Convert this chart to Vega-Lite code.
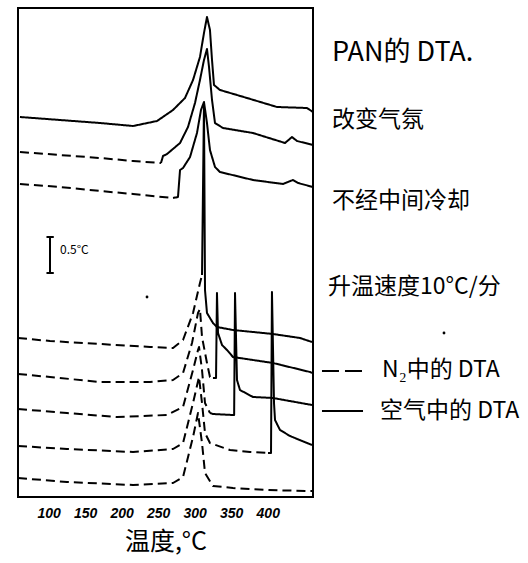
{
"$schema": "https://vega.github.io/schema/vega-lite/v6.json",
"width": 295, "height": 489,
"autosize": {"type": "none"},
"padding": {"left": 18, "top": 8, "right": 215, "bottom": 66},
"background": "white",
"config": {"view": {"stroke": "black", "strokeWidth": 2}, "font": "Noto Sans CJK SC"},
"datasets": {
"curves": [
{"s":"A1","i":1,"d":"air","t":60.7,"u":380},{"s":"A1","i":2,"d":"air","t":115.5,"u":377},{"s":"A1","i":3,"d":"air","t":170.3,"u":374},{"s":"A1","i":4,"d":"air","t":215.5,"u":371},{"s":"A1","i":5,"d":"air","t":248.4,"u":376},{"s":"A1","i":6,"d":"air","t":270.3,"u":387},{"s":"A1","i":7,"d":"air","t":286.7,"u":399},{"s":"A1","i":8,"d":"air","t":297.7,"u":417},{"s":"A1","i":9,"d":"air","t":307.2,"u":440},{"s":"A1","i":10,"d":"air","t":312.7,"u":464},{"s":"A1","i":11,"d":"air","t":316.8,"u":480},{"s":"A1","i":12,"d":"air","t":320.9,"u":467},{"s":"A1","i":13,"d":"air","t":323.7,"u":437},{"s":"A1","i":14,"d":"air","t":326.4,"u":412},{"s":"A1","i":15,"d":"air","t":334.6,"u":407},{"s":"A1","i":16,"d":"air","t":357.9,"u":402},{"s":"A1","i":17,"d":"air","t":371.6,"u":399},{"s":"A1","i":18,"d":"air","t":412.7,"u":390},{"s":"A1","i":19,"d":"air","t":453.8,"u":389},{"s":"A1","i":20,"d":"air","t":462,"u":385},
{"s":"B1","i":1,"d":"N2","t":60.7,"u":345},{"s":"B1","i":2,"d":"N2","t":115.5,"u":342},{"s":"B1","i":3,"d":"N2","t":170.3,"u":339},{"s":"B1","i":4,"d":"N2","t":215.5,"u":336},{"s":"B1","i":5,"d":"N2","t":253.8,"u":334},
{"s":"B2","i":1,"d":"air","t":253.8,"u":334},{"s":"B2","i":2,"d":"air","t":256.6,"u":341},{"s":"B2","i":3,"d":"air","t":262.1,"u":343},{"s":"B2","i":4,"d":"air","t":279.9,"u":354},{"s":"B2","i":5,"d":"air","t":290.8,"u":370},{"s":"B2","i":6,"d":"air","t":300.4,"u":394},{"s":"B2","i":7,"d":"air","t":307.2,"u":417},{"s":"B2","i":8,"d":"air","t":312.7,"u":437},{"s":"B2","i":9,"d":"air","t":316.8,"u":448},{"s":"B2","i":10,"d":"air","t":319.6,"u":430},{"s":"B2","i":11,"d":"air","t":323.7,"u":397},{"s":"B2","i":12,"d":"air","t":327.8,"u":374},{"s":"B2","i":13,"d":"air","t":338.7,"u":369},{"s":"B2","i":14,"d":"air","t":379.8,"u":364},{"s":"B2","i":15,"d":"air","t":423.7,"u":354},{"s":"B2","i":16,"d":"air","t":433.2,"u":360},{"s":"B2","i":17,"d":"air","t":440.1,"u":356},{"s":"B2","i":18,"d":"air","t":462,"u":352},
{"s":"C1","i":1,"d":"N2","t":60.7,"u":313},{"s":"C1","i":2,"d":"N2","t":115.5,"u":310},{"s":"C1","i":3,"d":"N2","t":170.3,"u":306},{"s":"C1","i":4,"d":"N2","t":215.5,"u":303},{"s":"C1","i":5,"d":"N2","t":270.3,"u":299},
{"s":"C2","i":1,"d":"air","t":270.3,"u":299},{"s":"C2","i":2,"d":"air","t":277.1,"u":300},{"s":"C2","i":3,"d":"air","t":279.9,"u":327},{"s":"C2","i":4,"d":"air","t":284,"u":329},{"s":"C2","i":5,"d":"air","t":293.6,"u":340},{"s":"C2","i":6,"d":"air","t":303.1,"u":364},{"s":"C2","i":7,"d":"air","t":308.6,"u":387},{"s":"C2","i":8,"d":"air","t":312.7,"u":395},{"s":"C2","i":9,"d":"air","t":316.8,"u":374},{"s":"C2","i":10,"d":"air","t":320.9,"u":347},{"s":"C2","i":11,"d":"air","t":327.8,"u":330},{"s":"C2","i":12,"d":"air","t":334.6,"u":325},{"s":"C2","i":13,"d":"air","t":379.8,"u":317},{"s":"C2","i":14,"d":"air","t":420.9,"u":313},{"s":"C2","i":15,"d":"air","t":434.6,"u":317},{"s":"C2","i":16,"d":"air","t":441.5,"u":314},{"s":"C2","i":17,"d":"air","t":462,"u":310},
{"s":"D1","i":1,"d":"N2","t":58,"u":159},{"s":"D1","i":2,"d":"N2","t":101.8,"u":156},{"s":"D1","i":3,"d":"N2","t":170.3,"u":153},{"s":"D1","i":4,"d":"N2","t":238.8,"u":150},{"s":"D1","i":5,"d":"N2","t":270.3,"u":149},{"s":"D1","i":6,"d":"N2","t":284,"u":157},{"s":"D1","i":7,"d":"N2","t":297.7,"u":184},{"s":"D1","i":8,"d":"N2","t":307.2,"u":214},{"s":"D1","i":9,"d":"N2","t":310,"u":222},
{"s":"D2","i":1,"d":"air","t":310,"u":222},{"s":"D2","i":2,"d":"air","t":312.7,"u":393},{"s":"D2","i":3,"d":"air","t":314.1,"u":207},{"s":"D2","i":4,"d":"air","t":316.8,"u":184},{"s":"D2","i":5,"d":"air","t":325,"u":174},{"s":"D2","i":6,"d":"air","t":330.5,"u":170},{"s":"D2","i":7,"d":"air","t":352.4,"u":167},{"s":"D2","i":8,"d":"air","t":407.2,"u":163},{"s":"D2","i":9,"d":"air","t":444.2,"u":159},{"s":"D2","i":10,"d":"air","t":460.6,"u":155},
{"s":"E1","i":1,"d":"N2","t":58,"u":123},{"s":"E1","i":2,"d":"N2","t":101.8,"u":120},{"s":"E1","i":3,"d":"N2","t":170.3,"u":115},{"s":"E1","i":4,"d":"N2","t":238.8,"u":115},{"s":"E1","i":5,"d":"N2","t":270.3,"u":117},{"s":"E1","i":6,"d":"N2","t":284,"u":124},{"s":"E1","i":7,"d":"N2","t":296.3,"u":154},{"s":"E1","i":8,"d":"N2","t":304.5,"u":184},{"s":"E1","i":9,"d":"N2","t":307.2,"u":188},{"s":"E1","i":10,"d":"N2","t":310,"u":160},{"s":"E1","i":11,"d":"N2","t":316.8,"u":134},{"s":"E1","i":12,"d":"N2","t":320.9,"u":120},{"s":"E1","i":13,"d":"N2","t":325,"u":119},
{"s":"E2","i":1,"d":"air","t":325,"u":119},{"s":"E2","i":2,"d":"air","t":329.2,"u":119},{"s":"E2","i":3,"d":"air","t":330.5,"u":204},{"s":"E2","i":4,"d":"air","t":331.9,"u":164},{"s":"E2","i":5,"d":"air","t":337.4,"u":152},{"s":"E2","i":6,"d":"air","t":344.2,"u":147},{"s":"E2","i":7,"d":"air","t":352.4,"u":140},{"s":"E2","i":8,"d":"air","t":407.2,"u":134},{"s":"E2","i":9,"d":"air","t":457.9,"u":125},{"s":"E2","i":10,"d":"air","t":460.6,"u":124},
{"s":"F1","i":1,"d":"N2","t":58,"u":88},{"s":"F1","i":2,"d":"N2","t":125.1,"u":84},{"s":"F1","i":3,"d":"N2","t":193.6,"u":80},{"s":"F1","i":4,"d":"N2","t":262.1,"u":82},{"s":"F1","i":5,"d":"N2","t":284,"u":90},{"s":"F1","i":6,"d":"N2","t":297.7,"u":127},{"s":"F1","i":7,"d":"N2","t":304.5,"u":147},{"s":"F1","i":8,"d":"N2","t":305.9,"u":150},{"s":"F1","i":9,"d":"N2","t":310,"u":127},{"s":"F1","i":10,"d":"N2","t":314.1,"u":94},{"s":"F1","i":11,"d":"N2","t":320.9,"u":84},
{"s":"F2","i":1,"d":"air","t":320.9,"u":84},{"s":"F2","i":2,"d":"air","t":325,"u":83},{"s":"F2","i":3,"d":"air","t":352.4,"u":82},{"s":"F2","i":4,"d":"air","t":354,"u":82},{"s":"F2","i":5,"d":"air","t":355.2,"u":204},{"s":"F2","i":6,"d":"air","t":357.9,"u":117},{"s":"F2","i":7,"d":"air","t":362,"u":107},{"s":"F2","i":8,"d":"air","t":379.8,"u":100},{"s":"F2","i":9,"d":"air","t":407.2,"u":99},{"s":"F2","i":10,"d":"air","t":460.6,"u":92},
{"s":"G1","i":1,"d":"N2","t":58,"u":51},{"s":"G1","i":2,"d":"N2","t":125.1,"u":48},{"s":"G1","i":3,"d":"N2","t":215.5,"u":45},{"s":"G1","i":4,"d":"N2","t":270.3,"u":48},{"s":"G1","i":5,"d":"N2","t":284,"u":54},{"s":"G1","i":6,"d":"N2","t":297.7,"u":94},{"s":"G1","i":7,"d":"N2","t":305.9,"u":120},{"s":"G1","i":8,"d":"N2","t":310,"u":94},{"s":"G1","i":9,"d":"N2","t":314.1,"u":64},{"s":"G1","i":10,"d":"N2","t":320.9,"u":54},{"s":"G1","i":11,"d":"N2","t":348.3,"u":47},{"s":"G1","i":12,"d":"N2","t":375.7,"u":45},{"s":"G1","i":13,"d":"N2","t":400.4,"u":44},
{"s":"G2","i":1,"d":"air","t":400.4,"u":44},{"s":"G2","i":2,"d":"air","t":404.5,"u":44},{"s":"G2","i":3,"d":"air","t":405.8,"u":205},{"s":"G2","i":4,"d":"air","t":408.6,"u":94},{"s":"G2","i":5,"d":"air","t":410,"u":77},{"s":"G2","i":6,"d":"air","t":416.8,"u":67},{"s":"G2","i":7,"d":"air","t":430.5,"u":61},{"s":"G2","i":8,"d":"air","t":453.8,"u":54},{"s":"G2","i":9,"d":"air","t":460.6,"u":52},
{"s":"H1","i":1,"d":"N2","t":58,"u":19},{"s":"H1","i":2,"d":"N2","t":125.1,"u":15},{"s":"H1","i":3,"d":"N2","t":215.5,"u":12},{"s":"H1","i":4,"d":"N2","t":270.3,"u":14},{"s":"H1","i":5,"d":"N2","t":284,"u":20},{"s":"H1","i":6,"d":"N2","t":297.7,"u":60},{"s":"H1","i":7,"d":"N2","t":304.5,"u":84},{"s":"H1","i":8,"d":"N2","t":310,"u":54},{"s":"H1","i":9,"d":"N2","t":314.1,"u":24},{"s":"H1","i":10,"d":"N2","t":325,"u":11},{"s":"H1","i":11,"d":"N2","t":352.4,"u":9},{"s":"H1","i":12,"d":"N2","t":399,"u":7},{"s":"H1","i":13,"d":"N2","t":455.2,"u":6},{"s":"H1","i":14,"d":"N2","t":460.6,"u":6}
],
"ticks": [{"t":67.6},{"t":89.5},{"t":108.7},{"t":130.6},{"t":152.5},{"t":173.0},{"t":192.2},{"t":214.1},{"t":234.7},{"t":256.6},{"t":277.1},{"t":299.0},{"t":320.9},{"t":341.5},{"t":363.4},{"t":385.3},{"t":407.2},{"t":427.8},{"t":448.3}],
"bar": [{"t":101.8,"t2":101.8,"u":224,"u2":260},{"t":97,"t2":107,"u":224,"u2":224},{"t":97,"t2":107,"u":260,"u2":260}],
"labels": [{"label":"改变气氛","t":488,"u":377},{"label":"不经中间冷却","t":488,"u":296},{"label":"升温速度10°C/分","t":482.5,"u":210}],
"title": [{"label":"PAN的 DTA.","t":488,"u":444}],
"legtext": [{"label":"N₂中的 DTA","t":556.5,"u":127},{"label":"空气中的 DTA","t":553.8,"u":86}],
"legN2": [{"t":474.3,"t2":530.5,"u":126}],
"legAir": [{"t":474.3,"t2":530.5,"u":86}],
"scaletext": [{"label":"0.5°C","t":115.5,"u":247}],
"dots": [{"t":234.7,"u":200},{"t":641.4,"u":164}]
},
"encoding": {
"x": {"field": "t", "type": "quantitative", "scale": {"domain": [58, 462], "nice": false, "zero": false},
 "axis": {"values": [100,150,200,250,300,350,400], "ticks": false, "domain": false, "grid": false,
  "labelFont": "Liberation Sans", "labelFontSize": 14, "labelFontStyle": "italic", "labelFontWeight": "bold", "labelColor": "black", "labelPadding": 9,
  "title": "温度,°C", "titleFont": "Noto Sans CJK SC", "titleFontSize": 25, "titleFontWeight": "normal", "titleColor": "black", "titlePadding": 9}},
"y": {"field": "u", "type": "quantitative", "scale": {"domain": [0, 489], "nice": false, "zero": false}, "axis": null}
},
"layer": [
{"data": {"name": "curves"}, "mark": {"type": "line", "color": "black", "strokeWidth": 2, "strokeJoin": "round"},
 "encoding": {"detail": {"field": "s"}, "order": {"field": "i", "type": "quantitative"},
  "strokeDash": {"field": "d", "type": "nominal", "scale": {"domain": ["N2", "air"], "range": [[9, 5], [1, 0]]}, "legend": null}}},
{"data": {"name": "ticks"}, "mark": {"type": "rule", "color": "black", "strokeWidth": 1.5},
 "encoding": {"y": {"datum": 0}, "y2": {"datum": 6}}},
{"data": {"name": "bar"}, "mark": {"type": "rule", "color": "black", "strokeWidth": 2},
 "encoding": {"x2": {"field": "t2"}, "y2": {"field": "u2"}}},
{"data": {"name": "legN2"}, "mark": {"type": "rule", "color": "black", "strokeWidth": 2, "strokeDash": [17, 6]},
 "encoding": {"x2": {"field": "t2"}}},
{"data": {"name": "legAir"}, "mark": {"type": "rule", "color": "black", "strokeWidth": 2},
 "encoding": {"x2": {"field": "t2"}}},
{"data": {"name": "labels"}, "mark": {"type": "text", "align": "left", "baseline": "middle", "fontSize": 23, "font": "Noto Sans CJK SC", "color": "black"},
 "encoding": {"text": {"field": "label"}}},
{"data": {"name": "title"}, "mark": {"type": "text", "align": "left", "baseline": "middle", "fontSize": 27, "font": "Noto Sans CJK SC", "color": "black"},
 "encoding": {"text": {"field": "label"}}},
{"data": {"name": "legtext"}, "mark": {"type": "text", "align": "left", "baseline": "middle", "fontSize": 23, "font": "Noto Sans CJK SC", "color": "black"},
 "encoding": {"text": {"field": "label"}}},
{"data": {"name": "scaletext"}, "mark": {"type": "text", "align": "left", "baseline": "middle", "fontSize": 12, "font": "Noto Sans CJK SC", "color": "black"},
 "encoding": {"text": {"field": "label"}}},
{"data": {"name": "dots"}, "mark": {"type": "circle", "color": "black", "size": 8, "opacity": 1}}
]
}
